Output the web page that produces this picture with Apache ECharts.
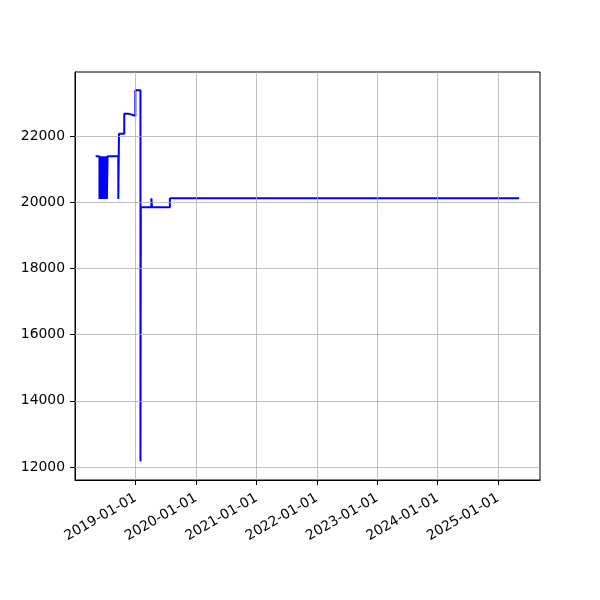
<!DOCTYPE html>
<html><head><meta charset="utf-8">
<script src="https://cdn.jsdelivr.net/npm/echarts@6/dist/echarts.min.js"></script>
<style>html,body{margin:0;padding:0;background:#fff}#c{width:600px;height:600px}</style>
</head><body><div id="c"></div>
<script>
const dates = ['2018-05-04','2018-05-27','2018-05-30','2018-06-02','2018-06-05','2018-06-08','2018-06-11','2018-06-14','2018-06-17','2018-06-20','2018-06-24','2018-06-27','2018-07-01','2018-07-04','2018-07-08','2018-07-11','2018-07-15','2018-09-18','2018-09-22','2018-10-24','2018-11-22','2018-12-30','2019-01-30','2019-02-01','2019-04-06','2019-04-10','2019-07-27','2025-05-09'];
const values = [21390,20100,21390,20100,21390,20100,21390,20100,21390,20100,21390,20100,21390,20100,21390,20100,21390,20100,22070,22670,22610,23380,12170,19850,20120,19850,20120,20120];
const xTicks = ['2019-01-01','2020-01-01','2021-01-01','2022-01-01','2023-01-01','2024-01-01','2025-01-01'];
const yTicks = [12000,14000,16000,18000,20000,22000];
const xMin = '2017-12-30', xMax = '2025-09-12';
const yMin = 11607, yMax = 23934;

function ts(s){const p=s.split('-').map(Number);return Date.UTC(p[0],p[1]-1,p[2]);}
function pad(n){return (n<10?'0':'')+n;}
function fmt(v){const d=new Date(v);return d.getUTCFullYear()+'-'+pad(d.getUTCMonth()+1)+'-'+pad(d.getUTCDate());}

const xTickTs = xTicks.map(ts);
const font = 'DejaVu Sans';
const gridStyle = {color:'#b0b0b0', width:0.8, type:'solid'};
const chart = echarts.init(document.getElementById('c'), null, {renderer:'canvas'});
chart.setOption({
  animation:false,
  grid:{left:75, right:60, top:72, bottom:120, show:true, borderColor:'#000', borderWidth:1, backgroundColor:'transparent'},
  xAxis:{type:'value', min:ts(xMin), max:ts(xMax), scale:true,
    axisLine:{show:true, onZero:false, lineStyle:{color:'#000', width:1}},
    axisTick:{show:true, length:5, customValues:xTickTs, lineStyle:{color:'#000'}},
    axisLabel:{customValues:xTickTs, formatter:(v)=>fmt(v), rotate:30, margin:17, color:'#000', fontFamily:font, fontSize:13.9},
    splitLine:{show:false}},
  yAxis:{type:'value', min:yMin, max:yMax, scale:true,
    axisLine:{show:true, onZero:false, lineStyle:{color:'#000', width:1}},
    axisTick:{show:true, length:5, customValues:yTicks, lineStyle:{color:'#000'}},
    axisLabel:{customValues:yTicks, formatter:(v)=>String(v), margin:10, color:'#000', fontFamily:font, fontSize:13.9},
    splitLine:{show:false}},
  series:[
    {type:'line', z:1, data:[], silent:true,
     markLine:{silent:true, symbol:['none','none'], label:{show:false}, lineStyle:gridStyle, animation:false,
       data: yTicks.map(v=>({yAxis:v})).concat(xTickTs.map(v=>({xAxis:v})))}},
    {type:'line', z:3, step:'end', showSymbol:false, symbol:'none',
     lineStyle:{color:'#0000ff', width:2}, itemStyle:{color:'#0000ff'},
     data: dates.map((d,i)=>[ts(d), values[i]])}
  ]
});
</script></body></html>
